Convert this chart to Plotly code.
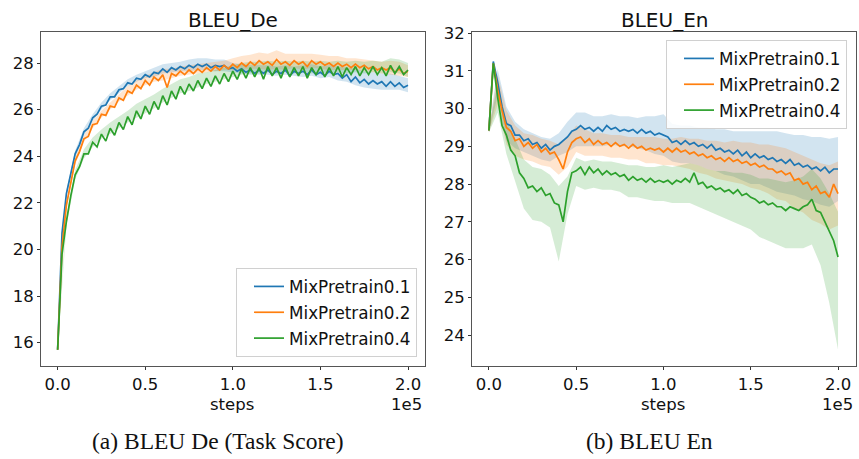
import plotly.graph_objects as go

# ---------------- data ----------------
steps = list(range(0, 200001, 2500))        # 81 evaluation points
band_steps = list(range(0, 200001, 5000))   # 41 points for the std bands

labels = ["MixPretrain0.1", "MixPretrain0.2", "MixPretrain0.4"]
x_tickvals = [0, 50000, 100000, 150000, 200000]
x_ticktext = ["0.0", "0.5", "1.0", "1.5", "2.0"]
de_ticks = [16, 18, 20, 22, 24, 26, 28]
en_ticks = [24, 25, 26, 27, 28, 29, 30, 31, 32]

# BLEU De means
de_blue = [15.70, 20.70, 22.40, 23.30, 24.10, 24.50, 25.05, 25.20, 25.65, 25.80,
           26.15, 26.20, 26.55, 26.55, 26.85, 26.90, 27.15, 27.10, 27.35, 27.30,
           27.50, 27.40, 27.60, 27.55, 27.75, 27.60, 27.80, 27.70, 27.85, 27.75,
           27.90, 27.80, 27.95, 27.85, 27.95, 27.80, 27.90, 27.85, 27.90, 27.75,
           27.80, 27.65, 27.75, 27.60, 27.70, 27.55, 27.70, 27.55, 27.70, 27.50,
           27.65, 27.55, 27.70, 27.45, 27.65, 27.55, 27.65, 27.50, 27.70, 27.50,
           27.60, 27.45, 27.65, 27.50, 27.55, 27.35, 27.50, 27.20, 27.40, 27.15,
           27.30, 27.10, 27.25, 27.10, 27.20, 27.00, 27.20, 27.00, 27.15, 26.95, 27.05]
de_orange = [15.70, 20.10, 21.90, 22.90, 23.80, 24.20, 24.75, 24.85, 25.35, 25.40,
             25.80, 25.75, 26.15, 26.10, 26.50, 26.40, 26.80, 26.70, 27.05, 26.90,
             27.25, 27.05, 27.40, 27.25, 27.50, 26.95, 27.55, 27.45, 27.65, 27.50,
             27.70, 27.55, 27.75, 27.60, 27.80, 27.65, 27.85, 27.70, 27.90, 27.75,
             27.95, 27.80, 28.00, 27.85, 28.05, 27.90, 28.10, 27.95, 28.05, 27.90,
             28.15, 27.95, 28.05, 27.90, 28.10, 27.95, 28.05, 27.85, 28.10, 27.95,
             28.05, 27.90, 28.00, 27.85, 28.00, 27.85, 27.95, 27.80, 27.95, 27.80,
             27.90, 27.75, 27.85, 27.70, 27.80, 27.70, 27.80, 27.60, 27.75, 27.55, 27.65]
de_green = [15.70, 19.80, 21.20, 22.30, 23.20, 23.55, 24.10, 24.10, 24.60, 24.40,
            24.95, 24.65, 25.20, 24.90, 25.45, 25.15, 25.70, 25.35, 25.95, 25.60,
            26.15, 25.80, 26.35, 26.00, 26.60, 26.20, 26.80, 26.45, 27.00, 26.65,
            27.10, 26.80, 27.25, 26.90, 27.35, 27.00, 27.45, 27.10, 27.55, 27.20,
            27.65, 27.30, 27.75, 27.35, 27.80, 27.40, 27.80, 27.30, 27.85, 27.45,
            27.80, 27.35, 27.85, 27.40, 27.80, 27.45, 27.85, 27.35, 27.80, 27.50,
            27.85, 27.40, 27.80, 27.45, 27.85, 27.40, 27.80, 27.50, 27.85, 27.45,
            27.80, 27.50, 27.85, 27.50, 27.80, 27.45, 27.90, 27.55, 27.85, 27.50, 27.70]

# BLEU De std (on band_steps)
de_blue_sd = [0.05, 0.15, 0.15, 0.15, 0.15, 0.15, 0.15, 0.15, 0.15, 0.15,
              0.15, 0.20, 0.20, 0.20, 0.20, 0.25, 0.25, 0.25, 0.25, 0.25,
              0.20, 0.20, 0.20, 0.20, 0.20, 0.20, 0.20, 0.20, 0.25, 0.25,
              0.25, 0.25, 0.30, 0.30, 0.35, 0.35, 0.35, 0.35, 0.35, 0.30, 0.30]
de_orange_sd = [0.05, 0.15, 0.15, 0.15, 0.15, 0.15, 0.15, 0.15, 0.20, 0.20,
                0.20, 0.20, 0.25, 0.20, 0.20, 0.20, 0.20, 0.20, 0.20, 0.20,
                0.25, 0.30, 0.30, 0.35, 0.35, 0.40, 0.35, 0.30, 0.35, 0.30,
                0.30, 0.30, 0.30, 0.25, 0.25, 0.25, 0.25, 0.25, 0.30, 0.30, 0.25]
de_green_sd = [0.05, 0.20, 0.20, 0.20, 0.20, 0.20, 0.25, 0.25, 0.25, 0.30,
               0.30, 0.30, 0.30, 0.30, 0.30, 0.30, 0.30, 0.25, 0.25, 0.25,
               0.25, 0.25, 0.25, 0.25, 0.25, 0.25, 0.25, 0.25, 0.25, 0.25,
               0.25, 0.25, 0.25, 0.25, 0.25, 0.25, 0.25, 0.25, 0.30, 0.30, 0.30]

# BLEU En means
en_blue = [29.42, 31.25, 30.70, 30.05, 29.60, 29.55, 29.30, 29.30, 29.15, 29.20,
           29.05, 29.10, 28.95, 29.05, 28.90, 29.00, 29.05, 29.15, 29.25, 29.40,
           29.45, 29.55, 29.45, 29.50, 29.40, 29.50, 29.40, 29.55, 29.45, 29.50,
           29.40, 29.45, 29.40, 29.45, 29.35, 29.45, 29.35, 29.40, 29.30, 29.35,
           29.30, 29.25, 29.10, 29.15, 29.05, 29.15, 29.05, 29.10, 29.00, 29.05,
           28.95, 29.05, 28.90, 28.95, 28.85, 28.90, 28.80, 28.90, 28.75, 28.85,
           28.70, 28.80, 28.70, 28.75, 28.65, 28.70, 28.60, 28.65, 28.55, 28.65,
           28.50, 28.55, 28.45, 28.50, 28.40, 28.45, 28.35, 28.45, 28.30, 28.40, 28.40]
en_orange = [29.42, 31.20, 30.50, 29.95, 29.50, 29.40, 29.15, 29.20, 29.00, 29.10,
             28.95, 29.05, 28.85, 28.95, 28.80, 28.85, 28.65, 28.40, 28.85, 29.10,
             29.20, 29.25, 29.10, 29.20, 29.05, 29.15, 29.05, 29.10, 29.00, 29.10,
             29.00, 29.05, 28.95, 29.05, 28.95, 29.00, 28.90, 28.95, 28.90, 28.95,
             28.85, 28.95, 28.85, 28.95, 28.85, 28.90, 28.80, 28.85, 28.75, 28.80,
             28.70, 28.75, 28.65, 28.70, 28.60, 28.70, 28.60, 28.65, 28.55, 28.60,
             28.50, 28.55, 28.45, 28.50, 28.40, 28.40, 28.30, 28.35, 28.25, 28.30,
             28.10, 28.15, 28.00, 28.05, 27.85, 27.95, 27.75, 27.80, 27.65, 28.00, 27.75]
en_green = [29.42, 31.20, 30.30, 29.55, 29.30, 28.90, 28.75, 28.30, 28.15, 27.90,
            27.95, 27.80, 27.90, 27.70, 27.75, 27.50, 27.45, 27.00, 27.80, 28.30,
            28.35, 28.45, 28.25, 28.45, 28.30, 28.40, 28.25, 28.35, 28.25, 28.30,
            28.20, 28.25, 28.10, 28.20, 28.10, 28.15, 28.05, 28.15, 28.05, 28.10,
            28.05, 28.10, 28.00, 28.10, 28.05, 28.15, 28.05, 28.30, 28.00, 28.05,
            27.90, 27.95, 27.85, 27.90, 27.80, 27.85, 27.75, 27.85, 27.70, 27.75,
            27.65, 27.60, 27.50, 27.55, 27.45, 27.50, 27.40, 27.40, 27.30, 27.40,
            27.35, 27.30, 27.40, 27.45, 27.60, 27.30, 27.25, 27.00, 26.75, 26.50, 26.07]

# BLEU En std (on band_steps)
en_blue_sd = [0.05, 0.35, 0.45, 0.35, 0.30, 0.30, 0.30, 0.30, 0.30, 0.40,
              0.45, 0.45, 0.40, 0.40, 0.40, 0.40, 0.40, 0.40, 0.45, 0.50,
              0.55, 0.50, 0.50, 0.50, 0.50, 0.55, 0.55, 0.60, 0.60, 0.65,
              0.70, 0.70, 0.75, 0.80, 0.80, 0.80, 0.85, 0.85, 0.90, 0.90, 0.85]
en_orange_sd = [0.05, 0.40, 0.45, 0.40, 0.35, 0.35, 0.35, 0.35, 0.40, 0.40,
                0.35, 0.35, 0.30, 0.30, 0.30, 0.30, 0.30, 0.30, 0.35, 0.35,
                0.35, 0.35, 0.40, 0.40, 0.45, 0.45, 0.50, 0.50, 0.55, 0.55,
                0.60, 0.60, 0.65, 0.70, 0.70, 0.75, 0.75, 0.80, 0.80, 0.85, 0.85]
en_green_sd_up = [0.05, 0.35, 0.40, 0.45, 0.50, 0.50, 0.50, 0.50, 0.50, 0.40,
                  0.35, 0.35, 0.35, 0.35, 0.35, 0.35, 0.40, 0.40, 0.40, 0.40,
                  0.45, 0.45, 0.45, 0.50, 0.50, 0.50, 0.50, 0.55, 0.55, 0.60,
                  0.60, 0.65, 0.70, 0.70, 0.75, 0.75, 0.80, 0.80, 0.90, 1.00, 1.20]
en_green_sd_dn = [0.05, 0.40, 0.50, 0.70, 0.80, 0.90, 0.90, 0.90, 1.50, 0.60,
                  0.40, 0.40, 0.40, 0.40, 0.40, 0.40, 0.45, 0.45, 0.45, 0.50,
                  0.50, 0.50, 0.55, 0.55, 0.60, 0.60, 0.65, 0.70, 0.75, 0.80,
                  0.85, 0.90, 0.95, 1.00, 1.00, 1.05, 1.10, 1.20, 1.40, 1.90, 2.45]

# ---------------- style ----------------
colors = ["#1f77b4", "#ff7f0e", "#2ca02c"]
fills = ["rgba(31,119,180,0.2)", "rgba(255,127,14,0.2)", "rgba(44,160,44,0.2)"]
FONT = "DejaVu Sans"
TXT = "#111111"

fig = go.Figure()


def add_panel(means, sd_up, sd_dn, xa, ya, legend_name, tag):
    for m, up, dn, fc in zip(means, sd_up, sd_dn, fills):
        center = m[::2]
        upper = [c + u for c, u in zip(center, up)]
        lower = [c - d for c, d in zip(center, dn)]
        fig.add_trace(go.Scatter(
            x=band_steps + band_steps[::-1], y=upper + lower[::-1],
            fill="toself", fillcolor=fc, line=dict(width=0), mode="lines",
            hoverinfo="skip", showlegend=False, xaxis=xa, yaxis=ya))
    for m, name, c in zip(means, labels, colors):
        fig.add_trace(go.Scatter(
            x=steps, y=m, mode="lines", name=name,
            line=dict(color=c, width=1.7), xaxis=xa, yaxis=ya,
            legend=legend_name, legendgroup=tag + name))


add_panel([de_blue, de_orange, de_green],
          [de_blue_sd, de_orange_sd, de_green_sd],
          [de_blue_sd, de_orange_sd, de_green_sd],
          "x", "y", "legend", "de")
add_panel([en_blue, en_orange, en_green],
          [en_blue_sd, en_orange_sd, en_green_sd_up],
          [en_blue_sd, en_orange_sd, en_green_sd_dn],
          "x2", "y2", "legend2", "en")

W, H = 859, 459
ax_common = dict(showline=True, mirror=True, linecolor="#555555", linewidth=1,
                 ticks="outside", ticklen=3, tickwidth=1, tickcolor="#333333",
                 showgrid=False, zeroline=False,
                 tickfont=dict(family=FONT, size=16.5, color=TXT))

ydom = [(H - 366) / H, (H - 32) / H]
legend_common = dict(bgcolor="rgba(255,255,255,0.85)", bordercolor="#d0d0d0", borderwidth=1,
                     font=dict(family=FONT, size=16.8, color=TXT),
                     traceorder="grouped", tracegroupgap=1, indentation=12)

fig.update_layout(
    width=W, height=H,
    margin=dict(l=0, r=0, t=0, b=0, autoexpand=False),
    paper_bgcolor="white", plot_bgcolor="white",
    xaxis=dict(domain=[41 / W, 425 / W], anchor="y", range=[-9500, 209700],
               tickvals=x_tickvals, ticktext=x_ticktext, **ax_common),
    yaxis=dict(domain=ydom, anchor="x", range=[15.0, 29.33],
               tickvals=de_ticks, **ax_common),
    xaxis2=dict(domain=[472 / W, 856 / W], anchor="y2", range=[-9700, 210300],
                tickvals=x_tickvals, ticktext=x_ticktext, **ax_common),
    yaxis2=dict(domain=ydom, anchor="x2", range=[23.18, 32.03],
                tickvals=en_ticks, **ax_common),
    legend=dict(x=417 / W, y=(H - 357) / H, xanchor="right", yanchor="bottom",
                **legend_common),
    legend2=dict(x=847 / W, y=(H - 40) / H, xanchor="right", yanchor="top",
                 **legend_common),
    showlegend=True,
)


def label(text, px, py, size, family=FONT, xanchor="center"):
    return dict(text=text, x=px / W, y=1 - py / H, xref="paper", yref="paper",
                xanchor=xanchor, yanchor="middle", showarrow=False,
                font=dict(family=family, size=size, color=TXT))


ann = [label("BLEU_De", 233, 20, 20), label("BLEU_En", 664, 20, 20)]
for cx, rx in [(232, 424), (663, 855)]:
    ann.append(label("steps", cx, 404, 16.5))
    ann.append(label("1e5", rx, 404, 16.5, xanchor="right"))
ann.append(label("(a) BLEU De (Task Score)", 218, 441, 23.5, family="Liberation Serif"))
ann.append(label("(b) BLEU En", 649, 441, 23.5, family="Liberation Serif"))
fig.update_layout(annotations=ann)

fig.write_html("out.html",
               config={"displayModeBar": False},
               post_script="document.body.style.margin='0';document.body.style.overflow='hidden';")
